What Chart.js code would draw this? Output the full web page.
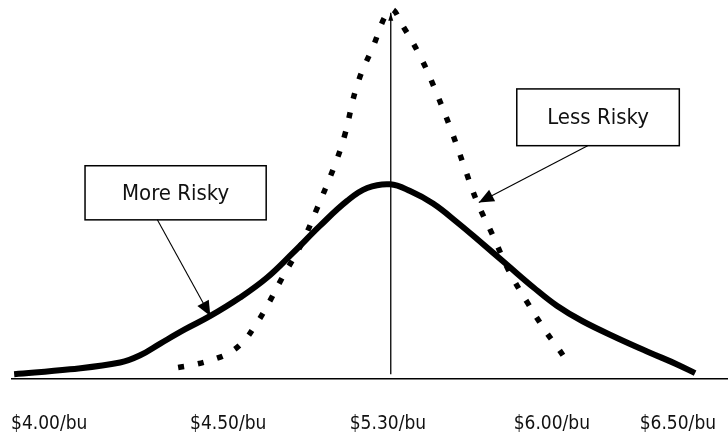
<!DOCTYPE html>
<html>
<head>
<meta charset="utf-8">
<script src="https://cdn.jsdelivr.net/npm/chart.js@4/dist/chart.umd.min.js"></script>
<style>
    body { margin: 0; background: #fff; }
    #wrap { width: 728px; height: 436px; }
</style>
</head>
<body>
<div id="wrap"><canvas id="riskChart" width="728" height="436"></canvas></div>
<script>
// price axis labels and where they sit on the (abstract) horizontal scale
const tickLabels = ['$4.00/bu', '$4.50/bu', '$5.30/bu', '$6.00/bu', '$6.50/bu'];
const tickPos = [5.2, 30.2, 52.5, 75.4, 93.0];

// "More Risky" distribution (solid)
const moreX = [0.3, 8.1, 15.1, 17.9, 20.7, 24.2, 27.7, 31.8, 35.6, 39.2, 43.0, 46.8, 49.6, 52.8, 55.6, 58.8, 62.2, 65.4, 69.1, 72.8, 76.1, 79.7, 84.5, 89.1, 92.9, 95.4];
const moreY = [1.1, 2.4, 4.2, 6.1, 9.2, 13.0, 16.5, 21.3, 26.6, 33.1, 40.3, 46.9, 50.3, 51.3, 49.5, 46.2, 41.2, 36.1, 30.1, 24.1, 19.2, 15.1, 10.7, 6.8, 3.7, 1.4];

// "Less Risky" distribution (dotted)
const lessX = [23.2, 25.6, 28.1, 30.4, 32.4, 33.9, 35.3, 37.8, 40.5, 42.6, 44.9, 46.4, 48.2, 50.3, 52.9, 54.7, 57.3, 59.4, 61.3, 63.1, 64.9, 67.2, 69.3, 71.9, 74.7, 76.3, 77.8];
const lessY = [2.9, 3.7, 5.0, 6.8, 9.9, 13.8, 18.0, 26.8, 35.8, 44.9, 55.5, 63.8, 77.5, 87.1, 97.4, 92.8, 84.0, 74.9, 65.8, 56.3, 46.9, 37.6, 28.8, 20.3, 12.0, 7.9, 3.7];

const toPoints = (xs, ys) => xs.map((x, i) => ({ x: x, y: ys[i] }));

const narrow = "'Liberation Sans Narrow', 'DejaVu Sans Condensed', Roboto, sans-serif";

function arrow(ctx, x1, y1, x2, y2, len, half) {
    ctx.beginPath();
    ctx.moveTo(x1, y1);
    ctx.lineTo(x2, y2);
    ctx.stroke();
    const a = Math.atan2(y2 - y1, x2 - x1);
    ctx.beginPath();
    ctx.moveTo(x2, y2);
    ctx.lineTo(x2 - len * Math.cos(a) + half * Math.sin(a), y2 - len * Math.sin(a) - half * Math.cos(a));
    ctx.lineTo(x2 - len * Math.cos(a) - half * Math.sin(a), y2 - len * Math.sin(a) + half * Math.cos(a));
    ctx.closePath();
    ctx.fill();
}

// boxes, callout arrows and the mean line
const callouts = {
    id: 'callouts',
    afterDatasetsDraw(chart) {
        const { ctx, scales: { x, y } } = chart;
        ctx.save();
        ctx.strokeStyle = '#000';
        ctx.fillStyle = '#000';

        // mean line with arrowhead
        ctx.lineWidth = 1.3;
        arrow(ctx, x.getPixelForValue(52.9), y.getPixelForValue(1.1), x.getPixelForValue(52.9), y.getPixelForValue(96.6), 8, 2.5);

        const boxes = [
            { text: 'More Risky', x1: 10.2, x2: 35.5, y1: 56.2, y2: 41.9, from: [20.3, 41.9], to: [27.7, 16.5] },
            { text: 'Less Risky', x1: 70.5, x2: 93.2, y1: 76.5, y2: 61.5, from: [80.4, 61.5], to: [65.2, 46.5] }
        ];
        boxes.forEach(b => {
            const l = x.getPixelForValue(b.x1), r = x.getPixelForValue(b.x2);
            const t = y.getPixelForValue(b.y1), bt = y.getPixelForValue(b.y2);
            ctx.fillStyle = '#fff';
            ctx.fillRect(l, t, r - l, bt - t);
            ctx.lineWidth = 1.5;
            ctx.strokeRect(l, t, r - l, bt - t);
            ctx.fillStyle = '#111';
            ctx.font = '22px ' + narrow;
            ctx.textAlign = 'center';
            ctx.textBaseline = 'middle';
            ctx.fillText(b.text, (l + r) / 2, (t + bt) / 2 + 1);
            ctx.fillStyle = '#000';
            ctx.lineWidth = 1.1;
            arrow(ctx, x.getPixelForValue(b.from[0]), y.getPixelForValue(b.from[1]),
                x.getPixelForValue(b.to[0]), y.getPixelForValue(b.to[1]), 15, 6.5);
        });
        ctx.restore();
    }
};

new Chart(document.getElementById('riskChart').getContext('2d'), {
    type: 'line',
    data: {
        datasets: [
            {
                label: 'More Risky',
                data: toPoints(moreX, moreY),
                borderColor: '#000',
                borderWidth: 6,
                pointRadius: 0,
                tension: 0.4,
                fill: false,
                clip: false
            },
            {
                label: 'Less Risky',
                data: toPoints(lessX, lessY),
                borderColor: '#000',
                borderWidth: 5.5,
                borderDash: [6, 14],
                borderCapStyle: 'butt',
                pointRadius: 0,
                tension: 0.4,
                fill: false,
                clip: false
            }
        ]
    },
    options: {
        responsive: false,
        animation: false,
        layout: { padding: { left: 12, right: 0, top: 0, bottom: -1 } },
        plugins: {
            legend: { display: false },
            tooltip: { enabled: false }
        },
        scales: {
            x: {
                type: 'linear',
                min: 0,
                max: 100,
                grid: { display: false },
                border: { display: true, color: '#000', width: 1.5 },
                afterBuildTicks: scale => {
                    scale.ticks = tickPos.map(v => ({ value: v }));
                },
                ticks: {
                    autoSkip: false,
                    maxRotation: 0,
                    padding: 0,
                    color: '#111',
                    font: { family: narrow, size: 19, lineHeight: '25.3px' },
                    // empty first line pushes the label down without padding the sides
                    callback: (val, i) => ['', tickLabels[i]]
                }
            },
            y: {
                display: false,
                min: 0,
                max: 100
            }
        }
    },
    plugins: [callouts]
});
</script>
</body>
</html>
